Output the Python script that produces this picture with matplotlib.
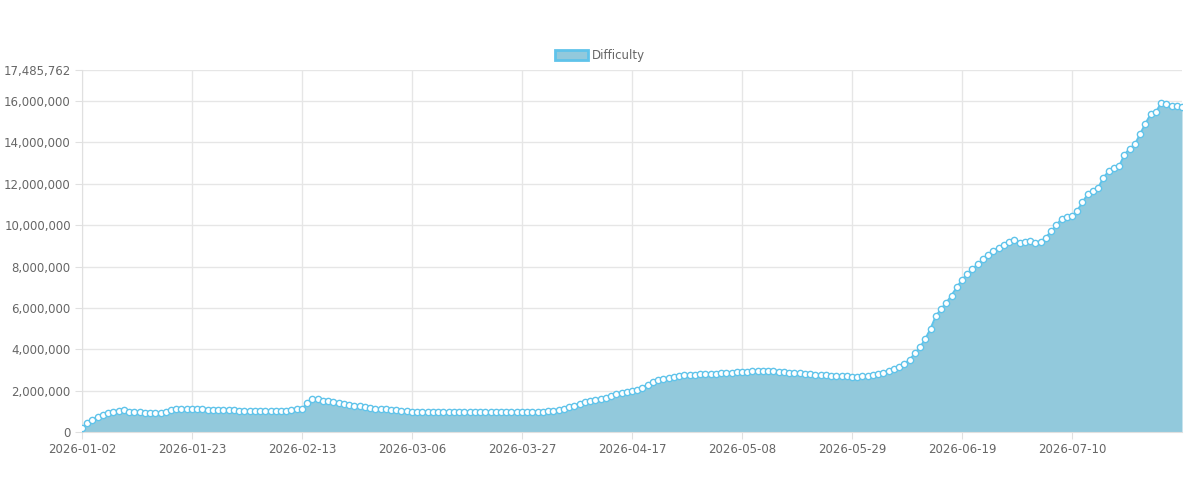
import matplotlib
matplotlib.use("Agg")
import matplotlib.pyplot as plt
import matplotlib.patches as mpatches
import numpy as np
import pandas as pd

start_date = "2026-01-02"
difficulty_m = [
 0.2,0.45,0.6,0.72,0.82,0.9,0.96,1.02,1.07,0.98,
 0.96,0.95,0.94,0.93,0.92,0.91,0.95,1.05,1.1,1.12,
 1.12,1.12,1.11,1.1,1.09,1.08,1.07,1.06,1.05,1.05,
 1.04,1.03,1.03,1.02,1.02,1.02,1.02,1.01,1.0,1.0,
 1.08,1.1,1.12,1.4,1.6,1.58,1.52,1.48,1.44,1.4,
 1.36,1.32,1.28,1.24,1.2,1.16,1.13,1.12,1.1,1.08,
 1.05,1.02,1.0,0.98,0.97,0.96,0.96,0.96,0.97,0.97,
 0.98,0.98,0.98,0.99,0.99,0.98,0.98,0.97,0.97,0.96,
 0.96,0.96,0.96,0.96,0.97,0.97,0.98,0.98,0.99,1.0,
 1.02,1.06,1.12,1.2,1.28,1.36,1.44,1.5,1.56,1.6,
 1.66,1.74,1.82,1.9,1.95,1.98,2.05,2.15,2.3,2.42,
 2.5,2.56,2.6,2.65,2.7,2.74,2.76,2.78,2.8,2.82,
 2.82,2.83,2.85,2.86,2.88,2.9,2.9,2.92,2.93,2.94,
 2.95,2.95,2.94,2.92,2.9,2.88,2.86,2.84,2.82,2.8,
 2.78,2.76,2.74,2.72,2.7,2.7,2.69,2.68,2.68,2.7,
 2.72,2.76,2.82,2.88,2.95,3.05,3.15,3.3,3.5,3.8,
 4.1,4.5,5.0,5.6,5.95,6.25,6.6,7.0,7.35,7.65,
 7.9,8.1,8.35,8.55,8.75,8.9,9.05,9.2,9.3,9.15,
 9.2,9.25,9.15,9.2,9.4,9.7,10.0,10.3,10.4,10.45,
 10.7,11.1,11.5,11.65,11.8,12.3,12.6,12.75,12.85,13.4,
 13.7,13.9,14.4,14.9,15.35,15.45,15.9,15.85,15.75,15.75,
 15.7,
]
y_max = 17485762
tick_labels = ["2026-01-02","2026-01-23","2026-02-13","2026-03-06","2026-03-27",
               "2026-04-17","2026-05-08","2026-05-29","2026-06-19","2026-07-10"]

dates = pd.date_range(start_date, periods=len(difficulty_m), freq="D")
vals = np.array(difficulty_m) * 1e6

fig = plt.figure(figsize=(12, 4.78), dpi=100)
ax = fig.add_axes([0.0683, 0.096, 0.9167, 0.757])
fill_c = "#92c9dc"
line_c = "#5fc3ea"
ax.fill_between(dates, vals, 0, color=fill_c, zorder=2, lw=0)
ax.plot(dates, vals, color=line_c, lw=1.5, marker="o", ms=4.5, mfc="white",
        mec=line_c, mew=1, zorder=3, label="Difficulty")
ax.set_xlim(dates[0], dates[-1])
ax.set_ylim(0, y_max)
yt = list(range(0, 16000001, 2000000)) + [y_max]
ax.set_yticks(yt)
ax.set_yticklabels([f"{v:,}" for v in yt])
ax.set_xticks(pd.to_datetime(tick_labels))
ax.set_xticklabels(tick_labels)
ax.grid(True, color="#e6e6e6", lw=1, zorder=0)
for s in ax.spines.values():
    s.set_visible(False)
for k in ("left", "bottom"):
    ax.spines[k].set_visible(True)
    ax.spines[k].set_color("#e0e0e0")
ax.tick_params(colors="#e0e0e0", labelcolor="#666666", labelsize=8.5, length=5, pad=3)
h = mpatches.Patch(facecolor=fill_c, edgecolor=line_c, lw=2)
fig.legend([h], ["Difficulty"], loc="center", bbox_to_anchor=(0.5, 0.883),
           frameon=False, fontsize=8.5, handlelength=2.8, handleheight=0.9,
           handletextpad=0.4, labelcolor="#666666")
fig.savefig("out.png", dpi=100)
